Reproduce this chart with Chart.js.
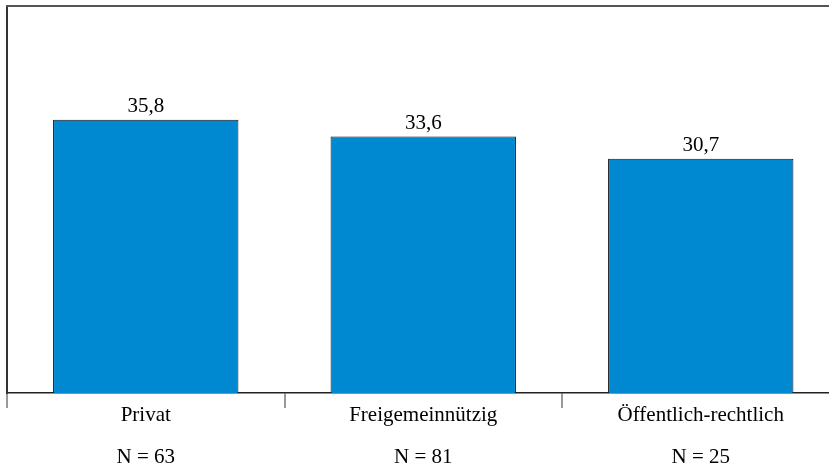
<!DOCTYPE html>
<html>
<head>
<meta charset="utf-8">
<script src="https://cdn.jsdelivr.net/npm/chart.js@4/dist/chart.umd.min.js"></script>
<style>
  html, body { margin: 0; padding: 0; background: #fff; overflow: hidden; }
  #wrap { width: 829px; height: 468px; overflow: hidden; }
  canvas { display: block; }
</style>
</head>
<body>
<div id="wrap"><canvas id="c" width="842" height="468"></canvas></div>
<script>
const categories = ['Privat', 'Freigemeinnützig', 'Öffentlich-rechtlich']
const counts = [63, 81, 25]
const values = [35.8, 33.6, 30.7]

const serif = '"Liberation Serif", "Times New Roman", serif'

const valueLabels = {
    id: 'valueLabels',
    afterDatasetsDraw(chart) {
        const ctx = chart.ctx
        const meta = chart.getDatasetMeta(0)
        ctx.save()
        ctx.font = '21px ' + serif
        ctx.fillStyle = '#000'
        ctx.textAlign = 'center'
        ctx.textBaseline = 'alphabetic'
        meta.data.forEach((bar, i) => {
            ctx.fillText(values[i].toFixed(1).replace('.', ','), bar.x, bar.y - 8)
        })
        ctx.restore()
    }
}

const topBorder = {
    id: 'topBorder',
    afterDraw(chart) {
        const a = chart.chartArea
        const ctx = chart.ctx
        ctx.save()
        ctx.strokeStyle = '#555'
        ctx.lineWidth = 2
        ctx.beginPath()
        ctx.moveTo(a.left - 1, a.top)
        ctx.lineTo(a.right, a.top)
        ctx.stroke()
        ctx.restore()
    }
}

new Chart(document.getElementById('c'), {
    type: 'bar',
    data: {
        labels: categories.map((c, i) => [c, 'N = ' + counts[i]]),
        datasets: [{
            data: values,
            backgroundColor: '#0088d0',
            borderColor: '#111',
            borderWidth: 1,
            categoryPercentage: 1,
            barPercentage: 0.668
        }]
    },
    plugins: [valueLabels, topBorder],
    options: {
        responsive: false,
        animation: false,
        devicePixelRatio: 1,
        layout: { padding: { top: 6, left: 7, right: 2.5, bottom: 0 } },
        plugins: { legend: { display: false }, tooltip: { enabled: false } },
        scales: {
            x: {
                afterFit(s) { s.height = 75 },
                grid: {
                    display: true,
                    drawOnChartArea: false,
                    drawTicks: true,
                    tickLength: 15,
                    color: '#999',
                    lineWidth: 2
                },
                border: { display: true, color: '#222', width: 1.5 },
                ticks: {
                    color: '#000',
                    font: { family: serif, size: 21, lineHeight: 2.0 },
                    padding: -14,
                    maxRotation: 0,
                    autoSkip: false
                }
            },
            y: {
                min: 0,
                max: 50.7,
                afterFit(s) { s.width = 0 },
                grid: { display: false },
                ticks: { display: false },
                border: { display: true, color: '#333', width: 2 }
            }
        }
    }
})
</script>
</body>
</html>
